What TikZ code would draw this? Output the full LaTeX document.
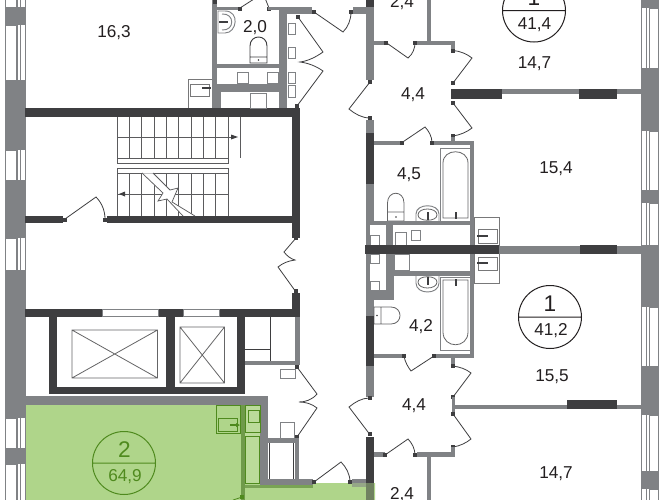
\documentclass[tikz,border=0pt]{standalone}
\usepackage{fontspec}
\setmainfont{Liberation Sans}
\definecolor{wg}{HTML}{808285}
\definecolor{wd}{HTML}{3E3E40}
\definecolor{ink}{HTML}{231F20}
\definecolor{gr}{HTML}{AFD58A}
\definecolor{grl}{HTML}{BBDB9A}
\definecolor{grd}{HTML}{4F8A1E}
\definecolor{grw}{HTML}{6F9A4A}
\tikzset{
  lbl/.style={anchor=base,inner sep=0pt,text=ink,font=\fontsize{12.9}{14}\selectfont},
  big/.style={anchor=base,inner sep=0pt,text=ink,font=\fontsize{17}{18}\selectfont},
  gwall/.style={fill=wg},
  dwall/.style={fill=wd},
  leaf/.style={draw=wd,line width=.6pt,fill=none},
  fix/.style={draw=wg,line width=.75pt,fill=white},
  thin/.style={draw=wd!80,line width=.6pt},
  stair/.style={draw=wd!85,line width=.55pt},
  grfix/.style={draw=grd,line width=.75pt},
}
\newcommand{\dt}[2]{\fill[wd] (#1-2,#2-2) rectangle (#1+2,#2+2);}
\newcommand{\winL}[2]{\fill[white] (5,#1) rectangle (25.5,#2);
  \draw[wg,line width=.6pt] (5,#1) rectangle (16,#2) (17.5,#1)--(17.5,#2) (20.5,#1)--(20.5,#2) (25,#1)--(25,#2);}
\newcommand{\winR}[2]{\fill[white] (641,#1) rectangle (659,#2);
  \draw[wg,line width=.6pt] (641.5,#1)--(641.5,#2) (646,#1)--(646,#2) (649,#1)--(649,#2) (658.5,#1)--(658.5,#2) (649,#1)--(658.5,#1) (649,#2)--(658.5,#2);}
\begin{document}
\begin{tikzpicture}[x=.75pt,y=-.75pt]
\clip (0,0) rectangle (672,500);
\fill[white] (0,0) rectangle (672,500);
% green flat
\fill[gr] (25,405) -- (245,405) -- (245,483) -- (375,483) -- (375,500) -- (25,500) -- cycle;
\fill[grl] (245,405) rectangle (260,483);
% outer walls
\fill[gwall] (5,0) rectangle (25.5,500);
\fill[gwall] (641,0) rectangle (659,500);
\winL{-2}{7}\winL{25}{80}\winL{150}{180}\winL{238}{270}\winL{418}{448}\winL{464}{503}
\winR{8}{68}\winR{131}{190}\winR{203}{250}\winR{307}{366}\winR{415}{471}\winR{489}{503}
\fill[gwall] (641,245) rectangle (659,307);
% stair walls
\fill[dwall] (25,108) rectangle (300,117);
\fill[dwall] (292,108) rectangle (300,238);
\fill[dwall] (25,216) rectangle (63,223);
\fill[dwall] (107,216) rectangle (292,223);
\dt{65}{219.5}\dt{105}{219.5}
\draw[leaf] (65,219) -- (96,197) .. controls (102,203) and (105,211) .. (105,219);
% stairs
\foreach \x in {117,129.3,141.6,154,166.3,178.6,191,203.3,215.6,228}{
  \draw[stair] (\x,117)--(\x,158);
  \draw[stair] (\x,173)--(\x,216);}
\draw[stair] (117,137)--(236,137) (117,194)--(228,194);
\fill[wd] (238,137)--(231,134.5)--(231,139.5)--cycle;
\fill[wd] (119,194)--(125,191.5)--(125,196.5)--cycle;
\draw[stair] (240,117)--(240,158);
\fill[white] (117,158) rectangle (228,163);\draw[stair] (117,158) rectangle (228,163);
\fill[white] (117,168) rectangle (228,173);\draw[stair] (117,168) rectangle (228,173);
\fill[white] (142,173.4) -- (163,193) -- (158,201) -- (167,199) -- (183,215.8) -- (195,215.8) -- (172,202) -- (178,188) -- (170,190) -- (153,173.4) -- cycle;
\draw[stair] (142,173) -- (163,193) -- (158,201) -- (167,199) -- (183,216);
\draw[stair] (153,173) -- (170,190) -- (178,188) -- (172,202) -- (195,216);
% elevators
\fill[dwall] (25,309) rectangle (300,317);
\fill[dwall] (292,293) rectangle (300,317);
\fill[dwall] (49,309) rectangle (57,394);
\fill[dwall] (166,309) rectangle (174.5,394);
\fill[dwall] (237,309) rectangle (245,394);
\fill[dwall] (49,387) rectangle (245,394);
\draw[wg,line width=.5pt,fill=white] (102,309.2) rectangle (158,316);
\draw[wg,line width=.5pt,fill=white] (183,309.2) rectangle (219,316);
\draw[thin] (72,330) rectangle (157.5,378) (72,330)--(157.5,378) (72,378)--(157.5,330);
\draw[thin] (180,327) rectangle (224.5,383) (180,327)--(224.5,383) (180,383)--(224.5,327);
% closet beside elevators
\fill[gwall] (295,317) rectangle (300,365);
\fill[gwall] (245,361) rectangle (300,365);
\draw[wd,line width=.7pt] (270,317)--(270,361) (245,349)--(270,349);
\draw[fix] (280,369) rectangle (295,378);
\dt{297}{366.5}\dt{297}{437}\dt{296}{291}\dt{296}{238}
\draw[leaf] (297,367)--(317,394) .. controls (312,400) and (305,402) .. (299,402) .. controls (306,402) and (312,404) .. (317,408) -- (297,437);
\draw[leaf] (296,238)--(284,252) .. controls (287,256) and (291,259) .. (295,260) .. controls (288,261) and (283,263) .. (278,267) -- (296,292);
% gray L over green
\fill[gwall] (25,396) rectangle (268,405);
\fill[gwall] (260,396) rectangle (268,483);
\fill[gwall] (268,438) rectangle (299,443);
\fill[gwall] (295,438) rectangle (299,483);
\fill[gwall] (260,479) rectangle (313,485);
\draw[wd,line width=.6pt] (269,443)--(269,479) (293.5,443)--(293.5,479);
\draw[wg,line width=.7pt] (280,422.5) rectangle (294,438);
\fill[grw!85!gr] (245,485) rectangle (313,488);
\fill[grw] (240.5,405) rectangle (245,500);
% green fixtures
\draw[grfix] (216,405) rectangle (240.5,433.5);
\draw[grfix] (218,418) rectangle (237,431);
\draw[grd,line width=1pt] (230,425)--(238,425);
\fill[grd] (240,425)--(236,423)--(236,427)--cycle;
\draw[grfix] (245,405) rectangle (260,432);
\draw[grfix] (248.5,410.5) rectangle (259,422);
\draw[grfix] (245,436) rectangle (259,483);
\draw[leaf,draw=grd] (242,497)--(233,500);
\fill[grd] (240,495) rectangle (244,499);
% lower door to the flat
\dt{314}{482}\dt{350}{482}
\draw[leaf] (314,482)--(341,462) .. controls (346,467) and (350,474) .. (350,482);
\fill[gwall] (352,479) rectangle (366,487);
% top-centre wc
\fill[gwall] (212,0) rectangle (217,108);
\dt{214.5}{2}
\fill[gwall] (217,7) rectangle (240,10);
\dt{240}{8.5}\dt{269}{8.5}
\draw[leaf] (240,8)--(254,-1);
\draw[leaf] (269,8)--(265,-2);
\fill[gwall] (268,7) rectangle (312,10);
\fill[gwall] (279,10) rectangle (312,14);
\fill[gwall] (279,7) rectangle (287,108);
\fill[gwall] (217,64) rectangle (279,68);
\fill[gwall] (217,84) rectangle (279,92);
\fill[gwall] (217,92) rectangle (221,108);
\draw[fix] (237,72) rectangle (248,83);
\draw[fix] (267,72) rectangle (278,83);
\draw[fix] (250,93) rectangle (266,108);
\foreach \a/\b in {23/34,47/58,72/83,85/97}{\draw[fix] (288,\a) rectangle (295,\b);}
\dt{314}{12}\dt{298}{17}\dt{297}{105.5}
\draw[leaf] (298,17)--(323,52) .. controls (316,57) and (308,61) .. (300,62) .. controls (308,63) and (316,66) .. (323,71) -- (297,106);
% sink / wc 2,0
\draw[wg,line width=.7pt] (218,11) -- (225,11) .. controls (240,11) and (237,33) .. (225,33) -- (218,33) -- cycle;
\draw[wg,line width=.7pt] (222,14) .. controls (235,13) and (235,31) .. (222,30);
\draw[wd,line width=1.1pt] (219,22)--(228,22);
\draw[wd,line width=.7pt] (250,57)--(250,46) .. controls (250,34) and (267,34) .. (267,46) -- (267,57) (250,57) rectangle (267,63);
\fill[wd] (258.5,60) circle (.9);
% radiator 16,3
\draw[wd!70,line width=.7pt] (188,108)--(188,79)--(212,79);
\draw[wd!70,line width=.7pt] (190,84) rectangle (209,96);
\draw[wd,line width=1pt] (202,88)--(211,88);
% right tower wall
\fill[dwall] (366,0) rectangle (374,7);
\fill[gwall] (366,7) rectangle (374,80);
\fill[gwall] (353,7) rectangle (366,14);
\dt{351}{12}\dt{370}{81.5}\dt{370}{118}
\draw[leaf] (314,12)--(343,32) .. controls (348,27) and (351,20) .. (351,12);
\draw[leaf] (370,82)--(349,109) .. controls (355,114) and (362,118) .. (370,118);
\fill[gwall] (366,120) rectangle (374,133);
\fill[dwall] (366,133) rectangle (374,184);
\fill[gwall] (366,184) rectangle (374,225);
\fill[gwall] (366,225) rectangle (370,290);
\fill[gwall] (366,290) rectangle (374,316);
% flat 1 upper
\fill[gwall] (374,41) rectangle (384,44.5);
\dt{386}{42.5}\dt{415}{42.5}
\draw[leaf] (386,42.5)--(408,58) .. controls (413,54) and (415,48) .. (415,42.5);
\fill[gwall] (417,41) rectangle (455,44.5);
\fill[gwall] (427,0) rectangle (431,41);
\fill[gwall] (451,41) rectangle (455,50);
\dt{453}{50.5}\dt{453}{83}
\draw[leaf] (453,50.5) .. controls (460,51) and (467,54) .. (472,58) -- (453,83);
\fill[dwall] (451,89) rectangle (502,99);
\fill[gwall] (502,89) rectangle (641,93.5);
\fill[dwall] (579,89) rectangle (617,99);
\dt{453}{103}\dt{453}{136}
\draw[leaf] (453,103)--(472,128) .. controls (467,132) and (460,135) .. (453,136);
\fill[gwall] (451,137) rectangle (455,141);
% bath 4,5
\fill[gwall] (374,141) rectangle (400,144.5);
\dt{402}{142.5}\dt{432}{142.5}
\draw[leaf] (402,142.5)--(425,127) .. controls (429,131) and (432,137) .. (432,142.5);
\fill[gwall] (434,141) rectangle (474,144.5);
\fill[gwall] (470,141) rectangle (474,358);
\draw[wg,line width=.7pt] (440,148) rectangle (470,221);
\draw[wd!80,line width=.6pt] (443,218)--(443,163) .. controls (443,148) and (468,148) .. (468,163) -- (468,218) -- cycle;
\draw[wd,line width=1.2pt] (456,212)--(456,219);
\draw[wd!80,line width=.6pt] (387.5,212)--(387.5,203) .. controls (387.5,190) and (404,190) .. (404,203) -- (404,212) (387.5,212) rectangle (404,221);
\fill[wd] (396,217) circle (.9);
\draw[wg,line width=.7pt] (416,221) -- (416,214) .. controls (416,203) and (439,203) .. (439,214) -- (439,221);
\draw[wd!80,line width=.6pt] (418,215) .. controls (418,207) and (437,207) .. (437,215) .. controls (437,222) and (418,222) .. (418,215);
\draw[wd,line width=1.2pt] (428,212)--(428,220);
\fill[gwall] (366,221) rectangle (474,225);
\fill[gwall] (386,225) rectangle (393,245);
\fill[gwall] (386,254) rectangle (394,290);
\fill[gwall] (366,290) rectangle (394,300);
\draw[fix] (395,232) rectangle (406,245);
\draw[fix] (411,230.5) rectangle (420,240);
\draw[fix] (370,235) rectangle (379,245);
\draw[fix] (370,254) rectangle (379,263);
\draw[fix] (370,281) rectangle (379,290);
\draw[fix] (394,254) rectangle (409,270);
\fill[gwall] (394,270.5) rectangle (474,276);
% radiators
\draw[wd!70,line width=.6pt] (474,246)--(474,217)--(499,217)--(499,246);
\draw[wd!70,line width=.6pt] (478,229) rectangle (497,243);
\draw[wd,line width=1pt] (477,236)--(488,236);
\draw[wd!70,line width=.6pt] (474,254)--(474,283)--(499,283)--(499,254);
\draw[wd!70,line width=.6pt] (478,257) rectangle (497,270);
\draw[wd,line width=1pt] (477,263)--(488,263);
% central band
\fill[gwall] (499,246) rectangle (641,254);
\fill[dwall] (580,245) rectangle (617,254);
\fill[dwall] (365,245) rectangle (499,254);
% bath 4,2
\draw[wg,line width=.7pt] (440,277) rectangle (470,350);
\draw[wd!80,line width=.6pt] (443,280)--(443,332) .. controls (443,349) and (468,349) .. (468,332) -- (468,280) -- cycle;
\draw[wd,line width=1.2pt] (456,279)--(456,286);
\draw[wg,line width=.7pt] (416,276) -- (416,283) .. controls (416,295) and (439,295) .. (439,283) -- (439,276);
\draw[wd!80,line width=.6pt] (418,282) .. controls (418,275) and (437,275) .. (437,282) .. controls (437,290) and (418,290) .. (418,282);
\draw[wd,line width=1.2pt] (428,277)--(428,285);
\draw[wd!80,line width=.6pt] (374,307) rectangle (381,324) (381,307)--(391,307) .. controls (403,307) and (403,324) .. (391,324) -- (381,324);
\fill[wd] (377,315.5) circle (.9);
\fill[dwall] (366,316) rectangle (374,366);
\fill[gwall] (366,366) rectangle (374,397);
\fill[gwall] (374,354) rectangle (404,358);
\fill[gwall] (434,354) rectangle (474,358);
\dt{404}{356}\dt{434}{356}
\draw[leaf] (404,356) .. controls (405,362) and (408,367) .. (411,371) -- (434,356);
\fill[gwall] (451,358) rectangle (455,366);
\dt{453}{366}\dt{453}{397}
\draw[leaf] (453,366) .. controls (460,367) and (466,369) .. (471,373) -- (453,397);
\fill[gwall] (452,397) rectangle (455,413);
\fill[gwall] (455,405) rectangle (641,409);
\fill[dwall] (567,400) rectangle (617,409);
\dt{453}{414}\dt{453}{447}
\draw[leaf] (453,414)--(471,439) .. controls (466,443) and (460,446) .. (453,447);
\fill[gwall] (451,447) rectangle (455,455);
\dt{369.5}{398}\dt{369.5}{434}
\draw[leaf] (369.5,398) .. controls (362,398) and (355,402) .. (349,407) -- (369.5,434);
\fill[dwall] (366,437) rectangle (374,500);
\fill[gwall] (374,452) rectangle (385,457);
\dt{385}{455}\dt{415}{455}
\draw[leaf] (385,455)--(408,439) .. controls (412,443) and (415,449) .. (415,455);
\fill[gwall] (417,452) rectangle (455,457);
\fill[gwall] (427,457) rectangle (431,500);
% green tint over walls
\fill[gr,opacity=.45] (352,483) rectangle (375,500);
% texts
\node[lbl] (r1) at (114,37.3) {16,3};
\node[lbl] (r2) at (255,32) {2,0};
\node[lbl] (r3) at (402,7.5) {2,4};
\node[lbl] (r4) at (534.5,68.5) {14,7};
\node[lbl] (r5) at (413,99.5) {4,4};
\node[lbl] (r6) at (556,173) {15,4};
\node[lbl] (r7) at (409,179) {4,5};
\node[lbl] (r8) at (421,331) {4,2};
\node[lbl] (r9) at (552,381) {15,5};
\node[lbl] (r10) at (414,410) {4,4};
\node[lbl] (r11) at (556,478.7) {14,7};
\node[lbl] (r12) at (402,499.5) {2,4};
% circles
\draw[ink,line width=.75pt] (534,10.5) circle (31.5) (502.5,10.5)--(565.5,10.5);
\node[big] (c1) at (534,5) {1};
\node[lbl] (a1) at (534.5,29) {41,4};
\draw[ink,line width=.75pt] (550,317) circle (31.5) (518.5,317)--(581.5,317);
\node[big] (c2) at (550,311.7) {1};
\node[lbl] (a2) at (551,335.7) {41,2};
\draw[grd,line width=.75pt] (124,463) circle (31.5) (92.5,463)--(155.5,463);
\node[big,text=grd] (c3) at (124.5,457) {2};
\node[lbl,text=grd] (a3) at (125,481.7) {64,9};
\end{tikzpicture}
\end{document}
